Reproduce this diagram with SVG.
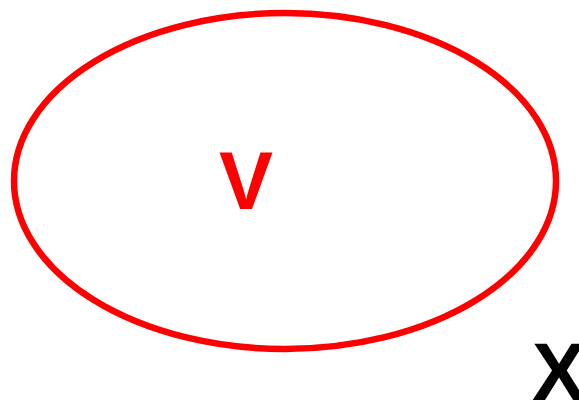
<svg xmlns="http://www.w3.org/2000/svg" width="579" height="401" viewBox="0 0 579 401">
<style>
.node-shape{fill:none;stroke:#ff0000;stroke-width:6.5}
.lbl{font-family:"Liberation Sans",Arial,sans-serif;font-weight:bold;font-size:81px}
</style>
<rect width="579" height="401" fill="#ffffff"/>
<g id="node-V">
<ellipse class="node-shape" cx="285" cy="181" rx="271" ry="168"/>
<text class="lbl" x="246" y="208.5" fill="#ff0000" text-anchor="middle">V</text>
</g>
<g id="label-X">
<text class="lbl" x="532" y="400" fill="#000000">X</text>
</g>
<g id="connectors"></g>
</svg>
